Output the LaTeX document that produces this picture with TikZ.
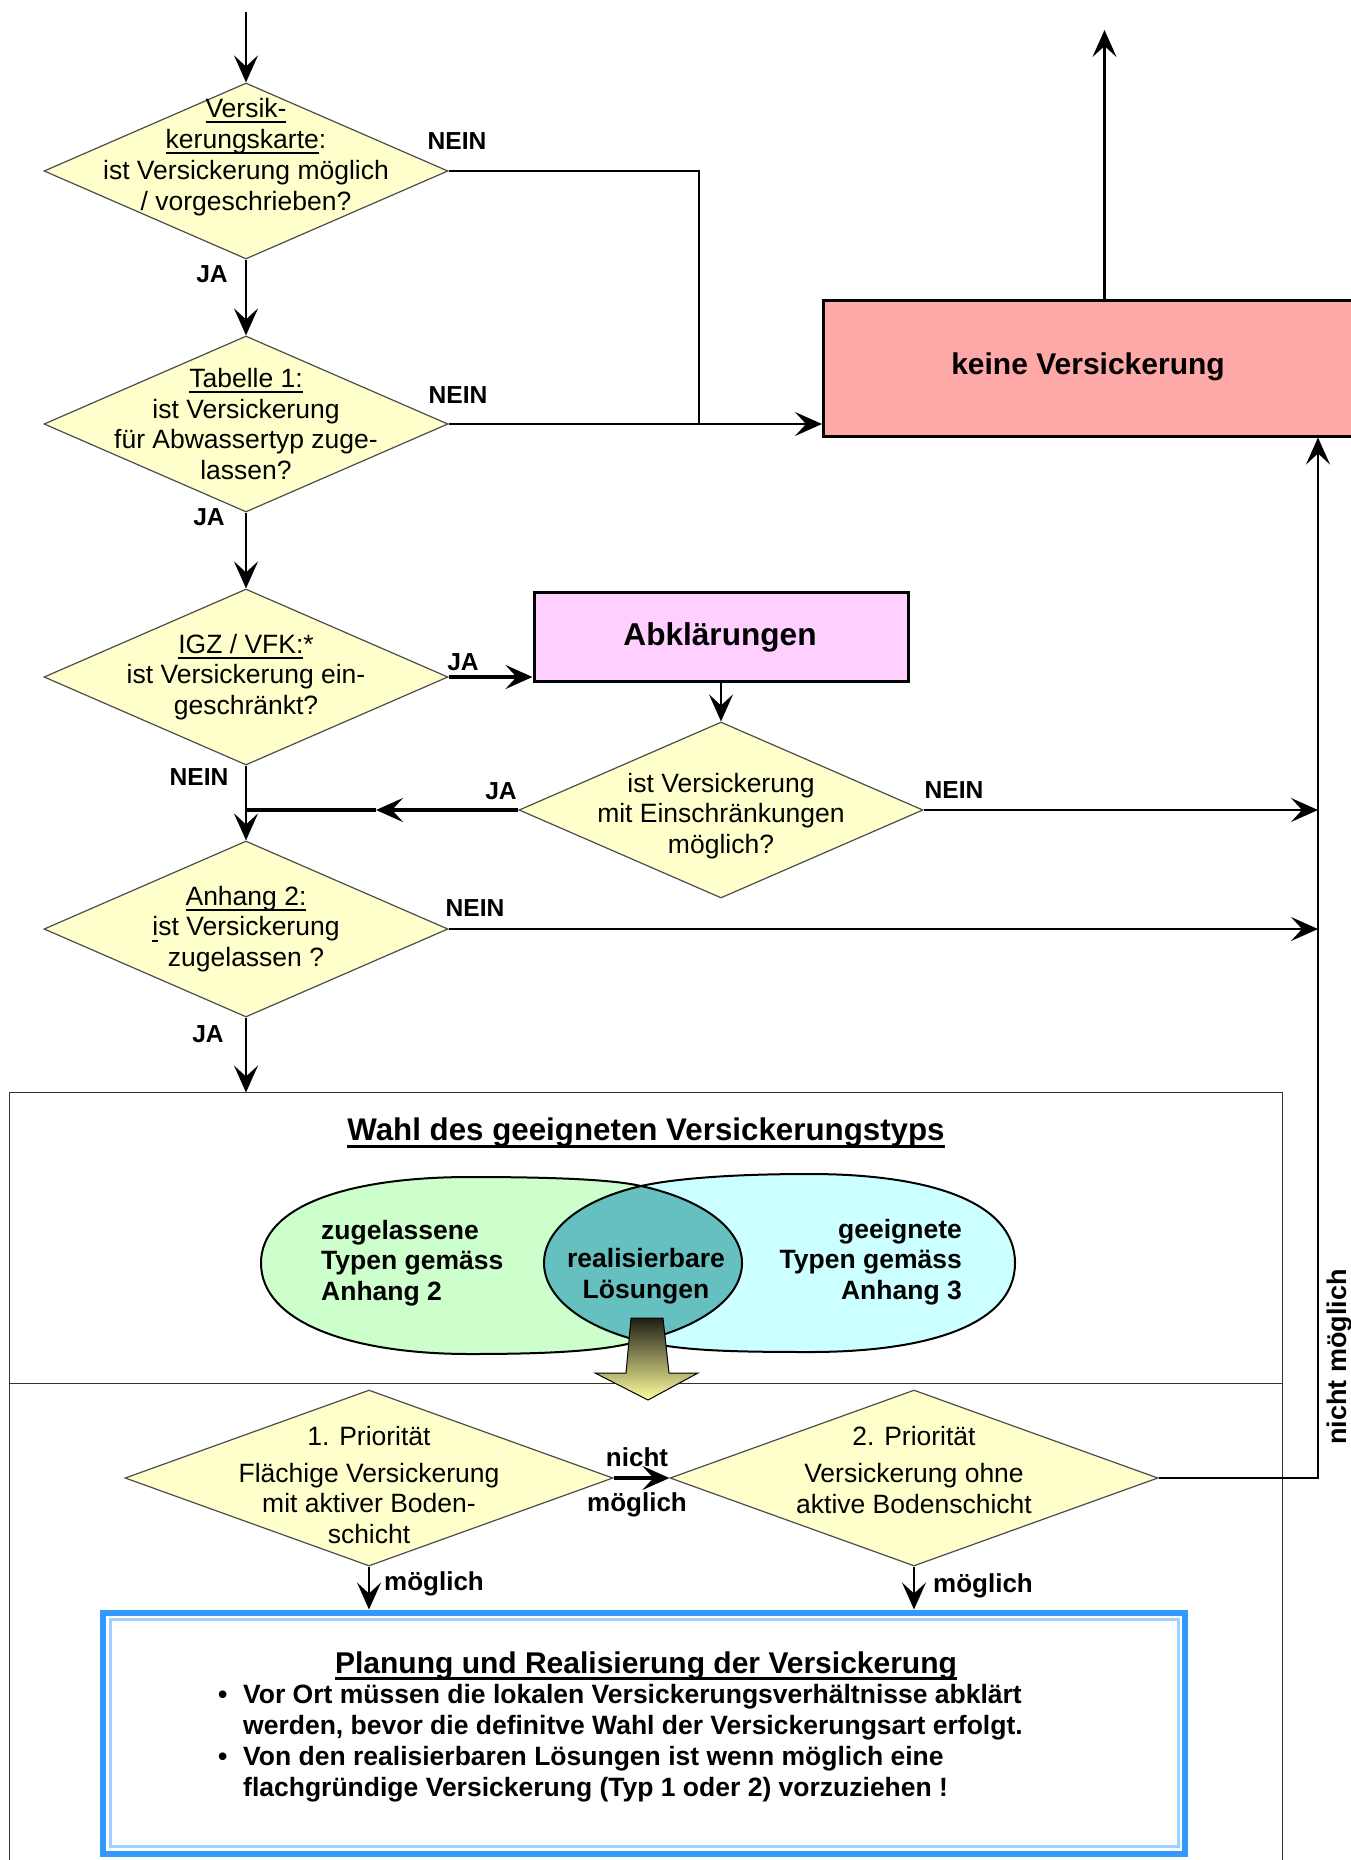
\documentclass[tikz,border=0pt]{standalone}
\usepackage{fontspec}
\setmainfont{Liberation Sans}
\usetikzlibrary{arrows.meta,shapes.geometric}
\definecolor{rautengelb}{RGB}{255,255,204}
\definecolor{abklrosa}{RGB}{255,208,255}
\definecolor{keinerot}{RGB}{255,168,168}
\definecolor{venngruen}{RGB}{204,255,204}
\definecolor{venncyan}{RGB}{204,255,255}
\definecolor{vennteal}{RGB}{102,192,192}
\definecolor{planblau}{RGB}{51,153,255}
\definecolor{planhell}{RGB}{160,208,255}
\definecolor{pfeilgelb}{RGB}{255,255,160}
\definecolor{pfeildunkel}{RGB}{30,30,20}

\newcommand{\rautenschrift}{\fontsize{26.5pt}{30.8pt}\selectfont}
\newcommand{\fettschrift}{\fontsize{26.5pt}{30.8pt}\selectfont\bfseries}
\newcommand{\antwortschrift}{\fontsize{24.6pt}{28pt}\selectfont\bfseries}
\newcommand{\moeglschrift}{\fontsize{26pt}{30pt}\selectfont\bfseries}
\newcommand{\unterlinie}[2][2pt]{\setbox0=\hbox{#2}\leavevmode\rlap{\vrule width\wd0 height-0.14em depth\dimexpr0.14em+#1\relax}\box0}

% Venn-Flaechen
\def\gruenform{(261,1263) .. controls (261,1205) and (350,1177) .. (470,1177) .. controls (560,1177) and (615,1180) .. (641,1186) .. controls (705,1200) and (742,1230) .. (742,1263) .. controls (742,1298) and (700,1328) .. (636,1342) .. controls (605,1350) and (560,1354) .. (470,1354) .. controls (350,1354) and (261,1322) .. (261,1263) -- cycle}
\def\cyanform{(1015,1263) .. controls (1015,1200) and (925,1174) .. (810,1174) .. controls (720,1174) and (668,1180) .. (641,1186) .. controls (580,1200) and (544,1230) .. (544,1263) .. controls (544,1296) and (580,1326) .. (640,1341) .. controls (680,1350) and (720,1352) .. (810,1352) .. controls (925,1352) and (1015,1326) .. (1015,1263) -- cycle}

\begin{document}
\begin{tikzpicture}[x=1pt, y=-1pt,
    raute/.style={diamond, draw=black!70, line width=1.2pt, fill=rautengelb, minimum width=404pt, minimum height=176pt, inner sep=0pt},
    prioraute/.style={raute, minimum width=488pt},
    rtext/.style={align=center, font=\rautenschrift, inner sep=0pt},
    antwort/.style={font=\antwortschrift, inner sep=0pt},
    moegl/.style={font=\moeglschrift, inner sep=0pt},
    linie/.style={line width=2.2pt},
    pfeil/.style={linie, -{Stealth[length=27pt, width=24pt, inset=11pt]}},
    dickpfeil/.style={pfeil, line width=3.5pt},
    kasten/.style={rectangle, draw=black, line width=3pt, inner sep=0pt},
    rahmen/.style={draw=black!80, line width=1.5pt}]
    \useasboundingbox (0,0) rectangle (1350,1860);

    % Rahmen Typwahl
    \node[rahmen, rectangle, minimum width=1273pt, minimum height=291pt, inner sep=0pt, outer sep=0pt] (wahl) at (646,1238) {};
    \coordinate (unten) at (0,1875);
    \draw[rahmen] (wahl.south west) -- (wahl.south west |- unten);
    \draw[rahmen] (wahl.south east) -- (wahl.south east |- unten);
    \node[font=\fontsize{31.3pt}{36pt}\selectfont\bfseries, inner sep=0pt] (wahltitel) at (646,1133) {\unterlinie[3.5pt]{Wahl des geeigneten Versickerungstyps}};

    % Venn
    \fill[venngruen] \gruenform;
    \fill[venncyan] \cyanform;
    \begin{scope}
        \clip \gruenform;
        \fill[vennteal] \cyanform;
    \end{scope}
    \draw[line width=2pt] \gruenform;
    \draw[line width=2pt] \cyanform;
    \node[anchor=west, align=left, font=\fettschrift, inner sep=0pt] (vgruen) at (321,1263) {zugelassene\\Typen gemäss\\Anhang 2};
    \node[anchor=east, align=right, font=\fettschrift, inner sep=0pt] (vcyan) at (962,1262) {geeignete\\Typen gemäss\\Anhang 3};
    \node[align=center, font=\fettschrift, inner sep=0pt] (vteal) at (646,1276) {realisierbare\\Lösungen};
    \shadedraw[top color=pfeildunkel, middle color=pfeilgelb, bottom color=pfeilgelb, draw=black, line width=1pt]
        (631,1318) -- (663,1318) -- (669,1373) -- (698,1373) -- (648,1400) -- (595,1373) -- (626,1373) -- cycle;

    % Abfragen
    \coordinate (start) at (246,12);
    \node[raute] (vkarte) at (246,171) {};
    \node[rtext] (vkartetxt) at (246,157) {\unterlinie{Versik-}\\\unterlinie{kerungskarte}:\\ist Versickerung möglich\\/ vorgeschrieben?};
    \node[raute] (tab1) at (246,424) {};
    \node[rtext] (tab1txt) at (246,424) {\unterlinie{Tabelle 1:}\\ist Versickerung\\für Abwassertyp zuge-\\lassen?};
    \node[raute] (igz) at (246,677) {};
    \node[rtext] (igztxt) at (246,677) {\unterlinie{IGZ / VFK:}*\\ist Versickerung ein-\\geschränkt?};
    \node[raute] (anh2) at (246,929) {};
    \node[rtext] (anh2txt) at (246,929) {\unterlinie{Anhang 2:}\\\unterlinie{i}st Versickerung\\zugelassen ?};
    \node[raute] (einschr) at (721,810) {};
    \node[rtext] (einschrtxt) at (721,816) {ist Versickerung\\mit Einschränkungen\\möglich?};

    % Kaesten
    \node[kasten, fill=abklrosa, minimum width=374pt, minimum height=89pt] (abkl) at (721,637) {};
    \node[font=\fontsize{31.6pt}{36pt}\selectfont\bfseries, inner sep=0pt] (abkltxt) at (720,637) {Abklärungen};
    \node[kasten, fill=keinerot, minimum width=529pt, minimum height=136pt] (keine) at (1088,368) {};
    \node[font=\fontsize{30pt}{34pt}\selectfont\bfseries, inner sep=0pt] (keinetxt) at (1088,367) {keine Versickerung};

    % Prioritaeten
    \node[prioraute] (prio1) at (369,1478) {};
    \node[rtext] (prio1txt) at (369,1485) {1. Priorität\\[6pt]Flächige Versickerung\\mit aktiver Boden-\\schicht};
    \node[prioraute] (prio2) at (914,1478) {};
    \node[rtext] (prio2txt) at (914,1470) {2. Priorität\\[6pt]Versickerung ohne\\aktive Bodenschicht};

    % Planung
    \node[rectangle, draw=planblau, line width=6pt, minimum width=1082pt, minimum height=241pt, inner sep=0pt] (planung) at (644,1733) {};
    \draw[planhell, line width=3pt] ([xshift=10pt, yshift=-10pt]planung.north west) rectangle ([xshift=-10pt, yshift=10pt]planung.south east);
    \node[font=\fontsize{30pt}{34pt}\selectfont\bfseries, inner sep=0pt] (plantitel) at (646,1666) {\unterlinie[3pt]{Planung und Realisierung der Versickerung}};
    \node[anchor=west, align=left, font=\fettschrift, inner sep=0pt] (planliste) at (218,1743) {\makebox[25pt][l]{\textbullet}Vor Ort müssen die lokalen Versickerungsverhältnisse abklärt\\\hspace*{25pt}werden, bevor die definitve Wahl der Versickerungsart erfolgt.\\\makebox[25pt][l]{\textbullet}Von den realisierbaren Lösungen ist wenn möglich eine\\\hspace*{25pt}flachgründige Versickerung (Typ 1 oder 2) vorzuziehen !};

    % Verbindungen
    \coordinate (knick) at (699,424);
    \coordinate (mitte) at (376,810);
    \coordinate (rechts) at (1318,1478);
    \coordinate (hoch) at (1104.5,30);
    \draw[pfeil] (start) -- (vkarte.north);
    \draw[linie] (vkarte.east) -| (knick);
    \draw[pfeil] (vkarte.south) -- (tab1.north);
    \draw[pfeil] (tab1.east) -- (tab1.east -| keine.west);
    \draw[pfeil] (tab1.south) -- (igz.north);
    \draw[dickpfeil] (igz.east) -- (igz.east -| abkl.west);
    \draw[pfeil] (einschr.north |- abkl.south) -- (einschr.north);
    \draw[pfeil] (igz.south) -- (anh2.north);
    \draw[dickpfeil] (einschr.west) -- (mitte);
    \draw[linie, line width=3.5pt] (mitte) -- (igz.south |- einschr.west);
    \draw[pfeil] (einschr.east) -- (einschr.east -| rechts);
    \draw[pfeil] (anh2.east) -- (anh2.east -| rechts);
    \draw[pfeil] (prio2.east) -| (keine.south -| rechts);
    \draw[pfeil] (keine.north -| hoch) -- (hoch);
    \draw[pfeil] (anh2.south) -- (anh2.south |- wahl.north);
    \draw[dickpfeil] (prio1.east) -- (prio2.west);
    \draw[pfeil] (prio1.south) -- (prio1.south |- planung.north);
    \draw[pfeil] (prio2.south) -- (prio2.south |- planung.north);

    % Beschriftungen
    \node[antwort] (nein1) at (457,141) {NEIN};
    \node[antwort] (nein2) at (458,395) {NEIN};
    \node[antwort] (ja1) at (212,274) {JA};
    \node[antwort] (ja2) at (209,517) {JA};
    \node[antwort] (ja3) at (463,662) {JA};
    \node[antwort] (nein3) at (199,777) {NEIN};
    \node[antwort] (ja4) at (501,791) {JA};
    \node[antwort] (nein4) at (954,790) {NEIN};
    \node[antwort] (nein5) at (475,908) {NEIN};
    \node[antwort] (ja5) at (208,1034) {JA};
    \node[moegl] (nicht) at (637,1457) {nicht};
    \node[moegl] (moeglmitte) at (637,1505) {möglich};
    \node[moegl] (moegl1) at (434,1584) {möglich};
    \node[moegl] (moegl2) at (983,1586) {möglich};
    \node[moegl, rotate=90, font=\fontsize{27pt}{30pt}\selectfont\bfseries] (nichtmoegl) at (1340,1357) {nicht möglich};
\end{tikzpicture}
\end{document}
